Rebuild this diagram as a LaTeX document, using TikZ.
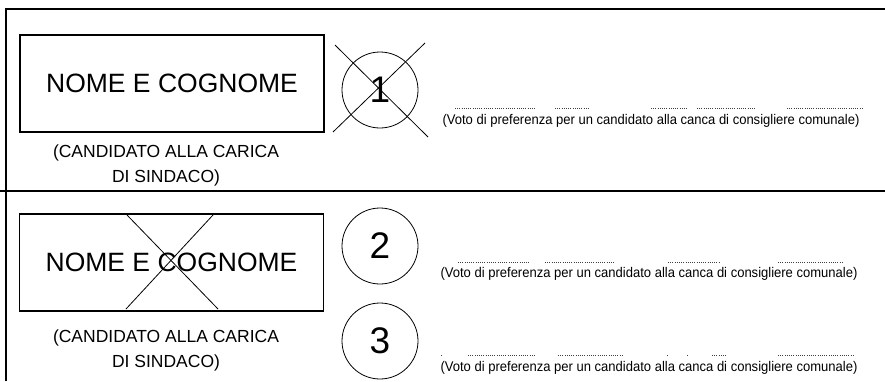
\documentclass[tikz,border=0pt]{standalone}
\usepackage{fontspec}
\setmainfont{Liberation Sans}
\usepackage{tikz}
\usetikzlibrary{calc}
\tikzset{
  namebox/.style={draw, line width=1.3pt, minimum width=304pt, minimum height=97pt, inner sep=0pt, font=\fontsize{26.5}{30}\selectfont},
  numcircle/.style={draw, circle, line width=.8pt, minimum size=76pt, inner sep=0pt, font=\fontsize{37}{40}\selectfont},
  caption/.style={align=center, font=\fontsize{17.5}{25}\selectfont},
  prefnote/.style={inner sep=0pt, font=\fontsize{14}{16}\selectfont},
  crossline/.style={line width=.8pt},
  dotline/.style={line width=.7pt, black!75, dash pattern=on .9pt off 1.3pt}
}

\begin{document}
\begin{tikzpicture}[x=1pt, y=-1pt]
      \useasboundingbox (0,0) rectangle (885,381);
      \draw[line width=1.5pt] (6,381) -- (6,9) -- (885,9);
      \draw[line width=1.5pt] (0,191) -- (885,191);
      \node (B1) at (172,83.5)  [namebox] {NOME E COGNOME};
      \node (C1) at (166,165)  [caption] {(CANDIDATO ALLA CARICA\\DI SINDACO)};
      \node (N1) at (380,90)  [numcircle] {1};
      \draw[crossline] (335,45) -- (428,137);
      \draw[crossline] (425,43) -- (333,132);
      \node (P1) at (651,121)  [prefnote] {\scalebox{.93}[1]{(Voto di preferenza per un candidato alla canca di consigliere comunale)}};
      \draw[dotline] (455,108) -- (536,108) (555,108) -- (590,108) (651,108) -- (687,108) (697,108) -- (755,108) (787,108) -- (863,108);
      \node (B2) at (171.5,262.5)  [namebox] {NOME E COGNOME};
      \draw[crossline] (127,215) -- (218,309);
      \draw[crossline] (213,215) -- (126,309);
      \node (C2) at (166,350)  [caption] {(CANDIDATO ALLA CARICA\\DI SINDACO)};
      \node (N2) at (380,246)  [numcircle] {2};
      \node (N3) at (380,341)  [numcircle] {3};
      \node (P2) at (649,274)  [prefnote] {\scalebox{.93}[1]{(Voto di preferenza per un candidato alla canca di consigliere comunale)}};
      \draw[dotline] (458,262) -- (530,262) (545,262) -- (615,262) (668,262) -- (720,262) (778,262) -- (842,262);
      \node (P3) at (649,368)  [prefnote] {\scalebox{.93}[1]{(Voto di preferenza per un candidato alla canca di consigliere comunale)}};
      \draw[dotline] (441,355) -- (443,355) (468,355) -- (536,355) (558,355) -- (623,355) (667,355) -- (669,355) (687,355) -- (689,355) (712,355) -- (727,355) (778,355) -- (853,355);
    \end{tikzpicture}
\end{document}
